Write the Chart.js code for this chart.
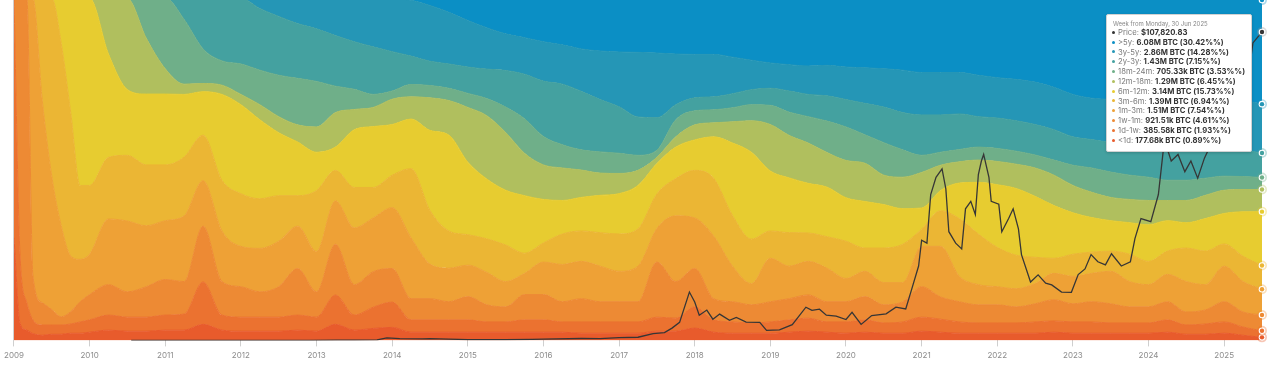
<!DOCTYPE html>
<html>
<head>
<meta charset="utf-8">
<script src="https://cdn.jsdelivr.net/npm/chart.js"></script>
<style>
  body { margin: 0; background: #fff; }
  #wrap { position: relative; width: 1279px; height: 367px; }
  #tip { position: absolute; background: #fff; border: 1px solid #d2d2d2; border-radius: 2px;
         box-shadow: 0 1px 3px rgba(0,0,0,.18); padding: 5px 6px 5px 4px;
         font-family: Inter, 'Open Sans', sans-serif; font-size: 7.7px; color: #7a7a7a; white-space: nowrap; }
  #tip .head { font-size: 6px; line-height: 8px; color: #888; padding-left: 2px; }
  #tip .row { line-height: 9.8px; }
  #tip .dot { display: inline-block; width: 3px; height: 3px; border-radius: 50%; margin: 0 3px 1px 1px; vertical-align: middle; }
  #tip b { color: #333; font-weight: 700; }
</style>
</head>
<body>
<div id="wrap"><canvas id="chart" width="1279" height="367"></canvas><div id="tip"></div></div>
<script>
// weekly snapshots, sampled (decimal years)
const weeks = [2009.0, 2009.08, 2009.17, 2009.25, 2009.375, 2009.5, 2009.625, 2009.75, 2009.875, 2010.0,
  2010.25, 2010.5, 2010.75, 2011.0, 2011.25, 2011.5, 2011.75, 2012.0, 2012.25, 2012.5, 2012.75,
  2013.0, 2013.25, 2013.5, 2013.75, 2014.0, 2014.25, 2014.5, 2014.75, 2015.0, 2015.25, 2015.5, 2015.75,
  2016.0, 2016.25, 2016.5, 2016.75, 2017.0, 2017.25, 2017.5, 2017.75, 2018.0, 2018.25, 2018.5, 2018.75,
  2019.0, 2019.25, 2019.5, 2019.75, 2020.0, 2020.25, 2020.5, 2020.75, 2021.0, 2021.25, 2021.5, 2021.75,
  2022.0, 2022.25, 2022.5, 2022.75, 2023.0, 2023.25, 2023.5, 2023.75, 2024.0, 2024.25, 2024.5, 2024.75,
  2025.0, 2025.25, 2025.5];
const yearTicks = [2009, 2010, 2011, 2012, 2013, 2014, 2015, 2016, 2017, 2018, 2019, 2020, 2021, 2022, 2023, 2024, 2025];

// share of supply per age band, % (bottom to top)
const lt1d = [30, 5, 3, 2, 1.5, 1.8, 1.8, 2.1, 2.1, 2.4, 3.0, 2.7, 2.7, 3.0, 3.0, 4.7, 3.0, 2.7, 2.7, 2.7, 3.0,
  2.7, 4.7, 3.0, 3.5, 3.8, 2.4, 2.4, 2.4, 2.4, 2.4, 2.4, 2.4, 2.4, 2.4, 2.1, 2.1, 2.1, 2.1, 2.7, 2.7,
  3.6, 2.4, 2.1, 2.1, 2.1, 2.4, 2.7, 2.4, 2.1, 2.4, 2.1, 2.1, 2.7, 2.4, 2.1, 2.1, 2.1, 2.1, 2.1, 2.4,
  2.1, 2.1, 2.1, 2.1, 2.1, 2.4, 1.8, 1.8, 2.1, 1.5, 0.89];
const d1w1 = [70, 20, 8, 4, 3, 2.7, 2.7, 2.7, 3.3, 3.6, 4.4, 4.1, 4.1, 4.4, 4.7, 12.4, 4.4, 4.1, 4.1, 4.1, 4.4,
  4.1, 8.6, 4.4, 6.2, 7.4, 3.6, 3.6, 3.6, 3.6, 3.0, 3.0, 3.6, 3.6, 3.0, 3.3, 3.3, 3.3, 3.3, 4.1, 3.8,
  6.2, 3.6, 3.3, 3.0, 3.3, 3.6, 3.8, 3.0, 3.3, 3.6, 3.0, 3.3, 4.1, 3.8, 3.3, 3.0, 3.0, 3.0, 3.3, 3.3,
  3.3, 3.3, 3.0, 3.0, 3.0, 3.6, 2.7, 3.0, 3.3, 2.4, 1.93];
const w1m1 = [0, 75, 89, 13, 6.5, 4.5, 2.4, 3.6, 5.9, 7.4, 8.9, 7.4, 8.9, 10.4, 9.5, 16.3, 9.8, 8.9, 7.4, 8.9, 13.6,
  7.4, 14.8, 8.9, 10.4, 9.8, 6.2, 6.2, 5.3, 6.8, 5.0, 4.4, 7.4, 7.4, 5.9, 6.8, 5.9, 5.9, 5.9, 16.1, 10.7,
  11.2, 6.2, 5.9, 5.3, 5.9, 6.2, 6.8, 5.9, 5.9, 6.8, 5.3, 5.9, 8.9, 6.5, 5.9, 5.3, 5.3, 4.7, 5.3, 6.2,
  5.3, 5.9, 5.6, 4.7, 4.7, 5.3, 3.8, 4.1, 5.9, 4.4, 4.61];
const m1m3 = [0, 0, 0, 81, 59, 39, 26.6, 16.3, 12.4, 11.8, 19.2, 20.7, 17.8, 17.2, 19.2, 13.3, 14.8, 11.8, 12.7, 13.3, 12.4,
  11.8, 12.7, 16.6, 15.7, 17.8, 17.8, 10.1, 9.8, 9.2, 9.5, 7.4, 6.2, 9.5, 10.9, 10.9, 10.4, 8.9, 10.4, 9.8, 19.2,
  14.8, 18.3, 10.4, 6.2, 12.7, 9.5, 9.8, 9.8, 6.8, 7.4, 6.5, 5.6, 11.8, 14.8, 7.4, 5.9, 5.3, 5.3, 5.9, 7.7,
  8.0, 8.3, 9.5, 7.4, 6.5, 8.0, 8.9, 7.4, 10.4, 8.9, 7.54];
const m3m6 = [0, 0, 0, 0, 30, 52, 53.3, 42, 21.6, 20.1, 18.0, 19.2, 17.8, 16.3, 17.2, 13.3, 14.8, 15.4, 14.5, 13.3, 8.9,
  17.8, 8.9, 11.8, 8.9, 9.5, 20.2, 15.7, 10.9, 8.9, 9.8, 10.7, 5.9, 5.6, 8.9, 8.9, 9.8, 10.9, 10.9, 10.1, 10.9,
  13.9, 16.9, 14.8, 13.0, 8.0, 9.8, 8.3, 9.2, 10.9, 6.8, 10.1, 11.2, 5.0, 10.4, 16.9, 14.8, 11.5, 9.8, 7.7, 4.4,
  6.5, 6.2, 5.9, 8.0, 6.8, 6.8, 9.8, 9.8, 6.5, 7.4, 6.94];
const m6m12 = [0, 0, 0, 0, 0, 0, 13.3, 33.4, 54.7, 54.7, 30.2, 19.2, 20.7, 20.7, 18.3, 12.7, 25.1, 26.0, 23.1, 18.4, 15.7,
  11.2, 6.8, 16.9, 17.8, 14.8, 14.5, 23.4, 28.0, 21.2, 17.5, 16.0, 16.8, 12.7, 9.8, 9.8, 10.9, 11.8, 12.7, 8.9, 9.2,
  8.9, 12.1, 21.2, 25.4, 17.5, 16.0, 14.5, 14.5, 12.7, 13.6, 12.7, 10.4, 6.2, 5.9, 10.4, 15.1, 18.3, 19.5, 17.8, 15.4,
  12.1, 10.1, 8.9, 9.2, 10.7, 8.9, 7.4, 9.5, 8.9, 13.0, 15.73];
const m12m18 = [0, 0, 0, 0, 0, 0, 0, 0, 0, 0, 16.3, 26.6, 16.3, 7.4, 3.0, 2.4, 2.7, 3.0, 4.4, 4.7, 5.0,
  7.4, 10.1, 5.9, 5.6, 7.4, 6.5, 9.5, 10.1, 16.0, 18.5, 16.9, 12.4, 10.1, 9.5, 8.0, 6.5, 5.9, 4.4, 1.8, 3.0,
  4.4, 4.1, 6.2, 9.2, 13.6, 12.4, 11.8, 10.1, 10.9, 11.2, 8.6, 9.2, 10.4, 7.4, 6.2, 6.5, 6.8, 7.1, 8.3, 8.9,
  8.0, 7.4, 6.8, 6.8, 7.1, 5.9, 6.5, 6.8, 6.8, 6.5, 6.45];
const m18m24 = [0, 0, 0, 0, 0, 0, 0, 0, 0, 0, 0, 0, 11.8, 20.7, 18.9, 10.1, 7.1, 8.9, 10.1, 12.1, 13.6,
  13.3, 7.7, 5.9, 3.8, 2.4, 3.6, 3.6, 3.6, 4.1, 5.0, 7.4, 10.1, 8.3, 6.8, 5.9, 6.2, 5.9, 4.4, 2.1, 5.0,
  4.1, 3.8, 4.1, 4.7, 5.6, 6.8, 7.7, 9.2, 9.8, 8.3, 9.5, 8.0, 5.0, 3.8, 3.6, 3.8, 3.8, 3.8, 3.8, 4.4,
  5.9, 7.1, 7.4, 7.1, 6.8, 5.9, 5.9, 5.0, 4.1, 3.8, 3.53];
const y2y3 = [0, 0, 0, 0, 0, 0, 0, 0, 0, 0, 0, 0, 0, 0, 6.2, 14.8, 18.3, 19.2, 18.0, 17.2, 16.0,
  15.4, 14.8, 13.9, 13.9, 11.5, 8.3, 7.1, 7.1, 7.7, 8.6, 10.7, 13.0, 16.2, 17.7, 17.1, 15.3, 13.6, 11.2, 9.5, 4.4,
  3.8, 3.8, 4.1, 4.4, 5.0, 6.2, 6.5, 7.4, 8.0, 9.2, 10.4, 10.9, 11.8, 10.9, 10.4, 8.9, 8.9, 8.9, 8.9, 8.9,
  8.3, 8.3, 8.6, 8.9, 8.9, 9.5, 9.2, 8.3, 7.7, 7.7, 7.15];
const y3y5 = [0, 0, 0, 0, 0, 0, 0, 0, 0, 0, 0, 0, 0, 0, 0, 0, 0, 0, 3.0, 5.3, 7.4,
  8.9, 10.9, 12.7, 14.2, 15.6, 16.3, 16.3, 15.1, 13.6, 12.1, 10.7, 10.7, 11.5, 11.5, 12.4, 14.2, 16.0, 18.9, 18.9, 14.8,
  12.7, 12.4, 10.7, 8.6, 7.4, 7.7, 8.3, 8.9, 9.5, 10.4, 11.2, 12.4, 12.4, 12.4, 12.1, 12.1, 11.8, 12.1, 12.4, 12.4,
  12.4, 12.1, 12.7, 13.3, 13.9, 14.2, 14.5, 14.5, 14.5, 14.5, 14.28];
const gt5y = [0, 0, 0, 0, 0, 0, 0, 0, 0, 0, 0, 0, 0, 0, 0, 0, 0, 0, 0, 0, 0,
  0, 0, 0, 0, 0, 0.6, 2.1, 4.1, 6.5, 8.6, 10.4, 11.5, 12.7, 13.6, 14.8, 15.4, 15.7, 15.8, 16.0, 16.3,
  16.4, 16.4, 17.2, 18.1, 18.9, 19.4, 19.8, 19.6, 20.1, 20.3, 20.6, 21.0, 21.7, 21.7, 21.7, 22.5, 23.2, 23.7, 24.5, 26.0,
  28.1, 29.2, 29.5, 29.5, 29.5, 29.5, 29.5, 29.8, 29.8, 29.9, 30.42];

const bandLabels = ['<1d', '1d-1w', '1w-1m', '1m-3m', '3m-6m', '6m-12m', '12m-18m', '18m-24m', '2y-3y', '3y-5y', '>5y'];
const bandColors = ['#e85b2c', '#eb7230', '#ed8a34', '#eea136', '#ebb634', '#e7cc30', '#b0bf5e', '#6faf89', '#44a1a0', '#2596b6', '#0b8fc5'];
const latestAmounts = ['177.68k', '385.58k', '921.51k', '1.51M', '1.39M', '3.14M', '1.29M', '705.33k', '1.43M', '2.86M', '6.08M'];

// BTC price, USD
const priceDates = [2010.55, 2011.0, 2011.2, 2011.45, 2011.7, 2012.0, 2012.5, 2012.9, 2013.28, 2013.5, 2013.8, 2013.93,
  2014.1, 2014.4, 2014.5, 2015.0, 2015.5, 2015.85, 2016.0, 2016.5, 2016.75, 2017.0, 2017.25, 2017.45, 2017.6, 2017.7,
  2017.8, 2017.93, 2018.0, 2018.06, 2018.16, 2018.24, 2018.33, 2018.46, 2018.55, 2018.68, 2018.86, 2018.95, 2019.12,
  2019.29, 2019.47, 2019.55, 2019.65, 2019.74, 2019.87, 2020.0, 2020.08, 2020.2, 2020.34, 2020.53, 2020.66, 2020.79,
  2020.87, 2020.96, 2021.0, 2021.07, 2021.12, 2021.19, 2021.27, 2021.32, 2021.36, 2021.45, 2021.53, 2021.58, 2021.65,
  2021.71, 2021.75, 2021.79, 2021.82, 2021.89, 2021.92, 2022.02, 2022.06, 2022.15, 2022.21, 2022.28, 2022.32, 2022.44,
  2022.54, 2022.64, 2022.72, 2022.85, 2022.98, 2023.07, 2023.16, 2023.24, 2023.33, 2023.43, 2023.51, 2023.64, 2023.76,
  2023.82, 2023.9, 2024.03, 2024.13, 2024.21, 2024.3, 2024.39, 2024.48, 2024.56, 2024.65, 2024.74, 2024.78, 2024.85,
  2024.94, 2025.05, 2025.13, 2025.21, 2025.28, 2025.38, 2025.5];
const priceValues = [0.07, 0.3, 0.9, 17, 5, 6, 7, 12, 130, 90, 180, 900,
  650, 500, 620, 260, 250, 380, 430, 670, 640, 960, 1100, 2400, 2700, 4300,
  6300, 16900, 13400, 8800, 10600, 7400, 9200, 7000, 8000, 6400, 6300, 3500, 3700,
  5500, 11600, 10500, 10900, 8800, 8500, 7300, 9800, 5600, 8700, 9300, 11600, 11000,
  18000, 26000, 35000, 34000, 51000, 57000, 60000, 53000, 38000, 34000, 32000, 46000, 48600,
  44000, 58000, 62700, 65000, 57000, 48600, 47600, 38000, 42600, 46000, 39000, 30000, 20400,
  22900, 20000, 19400, 16900, 16800, 23000, 25000, 30000, 27500, 26400, 30300, 26000, 27500,
  35600, 42600, 41500, 51000, 70000, 62700, 65000, 59000, 62700, 56700, 63800, 66000, 90000,
  98000, 102000, 96000, 84000, 85000, 104000, 107820.83];

const series = [lt1d, d1w1, w1m1, m1m3, m3m6, m6m12, m12m18, m18m24, y2y3, y3y5, gt5y];

const datasets = series.map((vals, i) => ({
  label: bandLabels[i],
  data: vals.map((v, k) => ({ x: weeks[k], y: v })),
  yAxisID: 'y',
  stack: 'hodl',
  backgroundColor: bandColors[i],
  borderColor: bandColors[i],
  borderWidth: 1,
  fill: i === 0 ? 'origin' : '-1',
  cubicInterpolationMode: 'monotone',
  pointRadius: 0
}));

datasets.push({
  label: 'Price',
  data: priceDates.map((d, k) => ({ x: d, y: priceValues[k] })),
  yAxisID: 'y2',
  stack: 'price',
  order: -1,
  borderColor: '#363636',
  borderWidth: 1.3,
  fill: false,
  tension: 0,
  pointRadius: 0
});

// marks the hovered week (last point of every dataset), like the snapshot
const hoverMarkers = {
  id: 'hoverMarkers',
  afterDatasetsDraw(chart) {
    const ctx = chart.ctx;
    chart.data.datasets.forEach((ds, i) => {
      const pts = chart.getDatasetMeta(i).data;
      const p = pts[pts.length - 1];
      if (!p) return;
      const c = ds.borderColor;
      ctx.save();
      ctx.globalAlpha = 0.35;
      ctx.fillStyle = i === series.length ? '#999' : c;
      ctx.beginPath(); ctx.arc(p.x, p.y, 5, 0, Math.PI * 2); ctx.fill();
      ctx.globalAlpha = 1;
      ctx.fillStyle = '#fff';
      ctx.beginPath(); ctx.arc(p.x, p.y, 3.3, 0, Math.PI * 2); ctx.fill();
      ctx.fillStyle = c;
      ctx.beginPath(); ctx.arc(p.x, p.y, 2.2, 0, Math.PI * 2); ctx.fill();
      ctx.restore();
    });
  }
};

const chart = new Chart(document.getElementById('chart'), {
  type: 'line',
  data: { datasets },
  plugins: [hoverMarkers],
  options: {
    responsive: false,
    animation: false,
    devicePixelRatio: 1,
    layout: { padding: { left: 12, right: 17, top: 0, bottom: 3 } },
    plugins: { legend: { display: false }, tooltip: { enabled: false } },
    scales: {
      x: {
        type: 'linear',
        min: 2009,
        max: 2025.5,
        afterBuildTicks: s => { s.ticks = yearTicks.map(v => ({ value: v })); },
        ticks: {
          autoSkip: false, maxRotation: 0, padding: 4,
          color: '#8c8c8c', font: { family: 'Inter', size: 8 },
          callback: v => String(v)
        },
        grid: { drawOnChartArea: false, color: '#cfcfcf', tickLength: 6 },
        border: { display: false }
      },
      y: {
        stacked: true, min: 0, max: 99.5,
        ticks: { display: false },
        grid: { display: false, drawTicks: false },
        border: { display: true, color: '#d0d0d0' }
      },
      y2: { display: false, min: 0, max: 119000 }
    }
  }
});

// tooltip box for the last week
const last = weeks.length - 1;
const tip = document.getElementById('tip');
let html = '<div class="head">Week from Monday, 30 Jun 2025</div>';
html += `<div class="row"><span class="dot" style="background:#333"></span>Price: <b>$${priceValues[priceValues.length - 1].toLocaleString('en-US', { minimumFractionDigits: 2 })}</b></div>`;
for (let i = series.length - 1; i >= 0; i--) {
  const pct = series[i][last].toFixed(2);
  html += `<div class="row"><span class="dot" style="background:${bandColors[i]}"></span>${bandLabels[i]}: <b>${latestAmounts[i]} BTC (${pct}%%)</b></div>`;
}
tip.innerHTML = html;
const xr = chart.scales.x.getPixelForValue(weeks[last]);
tip.style.left = (xr - 10 - tip.offsetWidth) + 'px';
tip.style.top = (chart.chartArea.top + 14) + 'px';
</script>
</body>
</html>
